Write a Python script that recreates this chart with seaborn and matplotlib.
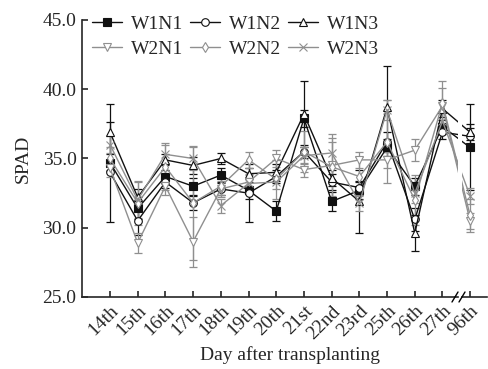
import numpy as np
import pandas as pd
import matplotlib
matplotlib.use("Agg")
import matplotlib.pyplot as plt
from matplotlib.lines import Line2D
import seaborn as sns

days = ["14th", "15th", "16th", "17th", "18th", "19th", "20th", "21st",
        "22nd", "23rd", "25th", "26th", "27th", "96th"]
series = ["W1N1", "W1N2", "W1N3", "W2N1", "W2N2", "W2N3"]

W1N1 = [34.7, 31.4, 33.7, 33.0, 33.8, 32.7, 31.2, 37.9, 31.9, 32.7, 35.8, 33.0, 37.3, 35.8]
W1N2 = [34.0, 30.5, 33.3, 31.8, 32.8, 32.5, 33.7, 35.5, 33.3, 32.9, 36.2, 30.6, 36.9, 36.6]
W1N3 = [36.9, 32.2, 34.9, 34.5, 35.0, 33.9, 34.0, 38.2, 33.6, 31.9, 38.7, 29.6, 38.6, 36.9]
W2N1 = [34.3, 28.9, 33.0, 29.0, 32.8, 33.3, 35.0, 34.2, 34.5, 34.9, 34.9, 35.6, 38.8, 30.5]
W2N2 = [35.0, 31.8, 34.4, 31.8, 33.0, 34.9, 33.5, 35.5, 34.4, 33.7, 36.2, 32.0, 39.0, 30.9]
W2N3 = [36.0, 32.0, 35.3, 35.0, 31.6, 33.2, 33.3, 35.2, 35.4, 31.8, 38.5, 32.5, 37.7, 32.3]

SD1N1 = [0.6, 0.8, 0.5, 0.6, 0.5, 0.6, 0.7, 0.6, 0.7, 0.6, 0.6, 0.6, 0.5, 3.1]
SD1N2 = [3.6, 1.0, 0.4, 0.5, 0.4, 2.1, 0.5, 0.5, 0.6, 0.5, 0.7, 0.8, 0.5, 0.6]
SD1N3 = [2.0, 0.6, 0.4, 0.6, 0.4, 0.4, 0.6, 2.4, 0.6, 2.3, 3.0, 1.3, 0.6, 0.6]
SD2N1 = [0.6, 0.7, 0.6, 1.8, 0.6, 0.6, 0.6, 0.5, 2.3, 0.6, 0.6, 0.8, 1.3, 0.6]
SD2N2 = [0.8, 1.6, 1.7, 4.1, 0.6, 0.6, 1.4, 1.5, 2.1, 1.4, 3.0, 1.8, 1.6, 1.2]
SD2N3 = [0.6, 1.3, 0.7, 0.8, 0.5, 0.6, 0.5, 0.6, 0.8, 0.6, 0.7, 0.7, 0.6, 0.6]

values = [W1N1, W1N2, W1N3, W2N1, W2N2, W2N3]
sds = [SD1N1, SD1N2, SD1N3, SD2N1, SD2N2, SD2N3]

sns.set_style("ticks")
plt.rcParams["font.family"] = ["Liberation Serif", "DejaVu Serif"]
FS = 14

BLACK = "#111111"
GRAY = "#8f8f8f"
colors = {"W1N1": BLACK, "W1N2": BLACK, "W1N3": BLACK,
          "W2N1": GRAY, "W2N2": GRAY, "W2N3": GRAY}
markers = {"W1N1": "s", "W1N2": "o", "W1N3": "^",
           "W2N1": "v", "W2N2": "d", "W2N3": "x"}
faces = {"W1N1": BLACK, "W1N2": "white", "W1N3": "white",
         "W2N1": "white", "W2N2": "white", "W2N3": GRAY}

fig = plt.figure(figsize=(4.89, 3.69), dpi=100)
W, H = 489, 369
y0, y1 = 297, 20
ax1 = fig.add_axes([82 / W, 1 - y0 / H, (458 - 82) / W, (y0 - y1) / H])
ax2 = fig.add_axes([462 / W, 1 - y0 / H, (487 - 462) / W, (y0 - y1) / H], sharey=ax1)

xs = np.arange(len(days))
for ax in (ax1, ax2):
    for s, v, e in zip(series, values, sds):
        ax.errorbar(xs, v, yerr=e, fmt="none",
                    ecolor=colors[s], elinewidth=0.9, capsize=3, capthick=0.9,
                    zorder=1)
    for s, v in zip(series, values):
        d = pd.DataFrame({"idx": xs, "SPAD": v})
        sns.lineplot(data=d, x="idx", y="SPAD", ax=ax, color=colors[s],
                     marker=markers[s], markersize=5.5, markeredgewidth=0.8,
                     markerfacecolor=faces[s], markeredgecolor=colors[s],
                     linewidth=1.0, legend=False, zorder=2)
    ax.set_ylim(25, 45)
    ax.set_xlabel("")
    ax.set_ylabel("")
    ax.spines["top"].set_visible(False)
    ax.spines["right"].set_visible(False)
    ax.tick_params(direction="in", length=4, width=1.2, labelsize=FS, pad=4)

ax1.set_xlim(-1.01, 12.56)
ax2.set_xlim(12.71, 13.61)
ax1.set_xticks(range(13))
ax1.set_xticklabels(days[:13], rotation=45, ha="right", rotation_mode="anchor")
ax2.set_xticks([13])
ax2.set_xticklabels(days[13:], rotation=45, ha="right", rotation_mode="anchor")
ax2.spines["left"].set_visible(False)
ax2.tick_params(axis="y", left=False, labelleft=False)
ax1.set_yticks([25, 30, 35, 40, 45])
ax1.set_yticklabels(["25.0", "30.0", "35.0", "40.0", "45.0"])
ax1.set_ylabel("SPAD", fontsize=FS, labelpad=8)
fig.text(290 / W, 1 - 355 / H, "Day after transplanting",
         ha="center", va="center", fontsize=FS)

for sp in ("left", "bottom"):
    ax1.spines[sp].set_linewidth(1.2)
ax2.spines["bottom"].set_linewidth(1.2)

# break marks
for xb in (455, 462):
    fig.add_artist(Line2D([(xb - 3) / W, (xb + 3) / W],
                          [1 - (y0 + 5) / H, 1 - (y0 - 5) / H],
                          color="black", lw=1.0))

order = ["W1N1", "W2N1", "W1N2", "W2N2", "W1N3", "W2N3"]
handles = [Line2D([], [], color=colors[s], marker=markers[s], markersize=5.5,
                  markerfacecolor=faces[s], markeredgecolor=colors[s],
                  markeredgewidth=0.8, lw=1.0) for s in order]
leg = fig.legend(handles, order, loc="upper left", ncol=3, frameon=False,
                 bbox_to_anchor=(92 / W, 1 - 15 / H), fontsize=14,
                 handlelength=1.55, columnspacing=0.35, handletextpad=0.45,
                 labelspacing=0.38, borderaxespad=0, borderpad=0)

fig.savefig("out.png", dpi=100)
